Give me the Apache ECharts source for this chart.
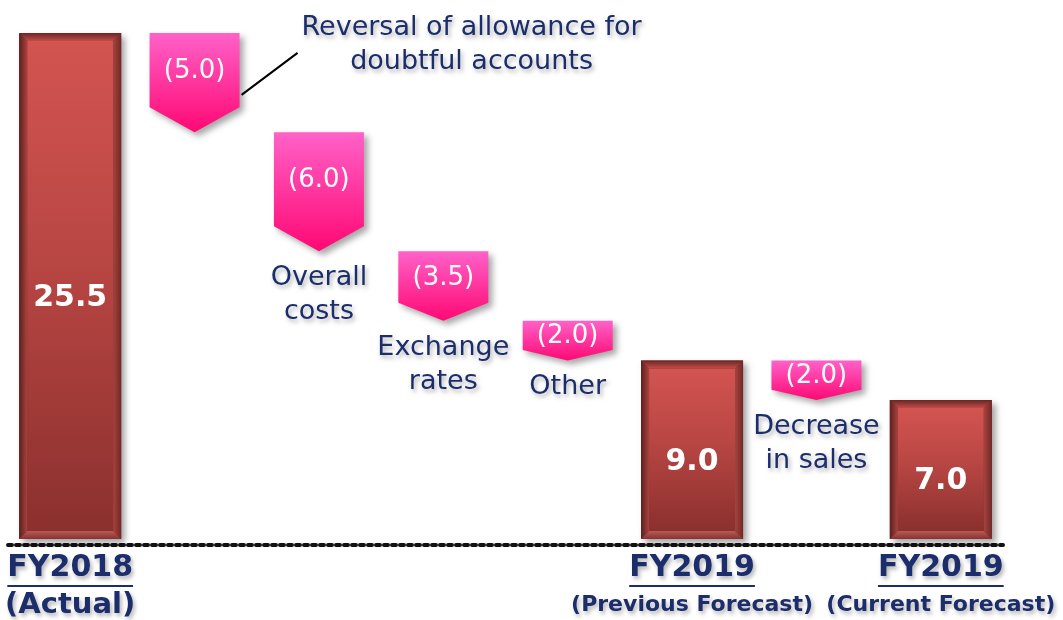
<!DOCTYPE html>
<html>
<head>
<meta charset="utf-8">
<script src="https://cdn.jsdelivr.net/npm/echarts@6/dist/echarts.min.js"></script>
<style>
  html, body { margin: 0; padding: 0; background: #fff; }
  #main { width: 1063px; height: 620px; }
</style>
</head>
<body>
<div id="main"></div>
<script>
// waterfall data
var categories = ['FY2018 (Actual)', 'Reversal of allowance for doubtful accounts', 'Overall costs',
  'Exchange rates', 'Other', 'FY2019 (Previous Forecast)', 'Decrease in sales', 'FY2019 (Current Forecast)'];
var totals  = [25.5, null, null, null, null, 9.0, null, 7.0];
var changes = [null, -5.0, -6.0, -3.5, -2.0, null, -2.0, null];
var notes   = ['', 'Reversal of allowance for\ndoubtful accounts', 'Overall\ncosts', 'Exchange\nrates',
  'Other', '', 'Decrease\nin sales', ''];
var tickTitles = ['FY2018', '', '', '', '', 'FY2019', '', 'FY2019'];
var tickSubs   = ['(Actual)', '', '', '', '', '(Previous Forecast)', '', '(Current Forecast)'];

var NAVY = '#1b2d6b';
var FONT = '"DejaVu Sans", Verdana, sans-serif';

// running level for the floating steps
var totalData = [], stepData = [];
var level = 0;
for (var i = 0; i < categories.length; i++) {
  if (totals[i] != null) {
    level = totals[i];
    totalData.push([i, totals[i]]);
  } else if (changes[i] != null) {
    stepData.push([i, level, level + changes[i], changes[i]]);
    level = level + changes[i];
  }
}

function fmt(v) {
  return v < 0 ? '(' + Math.abs(v).toFixed(1) + ')' : v.toFixed(1);
}

var shadow = { shadowBlur: 6, shadowOffsetX: 4, shadowOffsetY: 4, shadowColor: 'rgba(0,0,0,0.35)' };
var textShadow = { textShadowColor: 'rgba(0,0,0,0.3)', textShadowBlur: 4, textShadowOffsetX: 2, textShadowOffsetY: 3 };

function grad(c0, c1) {
  return new echarts.graphic.LinearGradient(0, 0, 0, 1, [{ offset: 0, color: c0 }, { offset: 1, color: c1 }]);
}

function renderTotal(params, api) {
  var idx = api.value(0), v = api.value(1);
  var top = api.coord([idx, v]);
  var base = api.coord([idx, 0]);
  var w = 102, b = 8;
  var x = top[0] - w / 2, y = top[1], h = base[1] - top[1];
  return {
    type: 'group',
    children: [
      { type: 'rect', shape: { x: x, y: y, width: w, height: h },
        style: Object.assign({ fill: '#6e2624' }, shadow) },
      // inner face
      { type: 'rect', shape: { x: x + b, y: y + b, width: w - 2 * b, height: h - 2 * b },
        style: { fill: new echarts.graphic.LinearGradient(0, 0, 0, 1, [
          { offset: 0, color: '#d35451' }, { offset: 0.45, color: '#b84643' }, { offset: 1, color: '#8b302e' }]) } },
      // bevels
      { type: 'polygon', shape: { points: [[x, y], [x + w, y], [x + w - b, y + b], [x + b, y + b]] },
        style: { fill: grad('#6a2624', '#c04c49') } },
      { type: 'polygon', shape: { points: [[x, y + h], [x + w, y + h], [x + w - b, y + h - b], [x + b, y + h - b]] },
        style: { fill: grad('#b65b57', '#8a302e') } },
      { type: 'polygon', shape: { points: [[x, y], [x + b, y + b], [x + b, y + h - b], [x, y + h]] },
        style: { fill: new echarts.graphic.LinearGradient(0, 0, 1, 0, [
          { offset: 0, color: '#5e1f1e' }, { offset: 1, color: '#a8433f' }]) } },
      { type: 'polygon', shape: { points: [[x + w, y], [x + w - b, y + b], [x + w - b, y + h - b], [x + w, y + h]] },
        style: { fill: new echarts.graphic.LinearGradient(0, 0, 1, 0, [
          { offset: 0, color: '#a8433f' }, { offset: 1, color: '#702826' }]) } },
      { type: 'text',
        style: { text: fmt(v), x: top[0], y: y + h / 2 + 12, align: 'center', verticalAlign: 'middle',
          fill: '#fff', fontSize: 30, fontWeight: 'bold', fontFamily: FONT } }
    ]
  };
}

function renderStep(params, api) {
  var idx = api.value(0);
  var top = api.coord([idx, api.value(1)]);
  var tip = api.coord([idx, api.value(2)]);
  var w = 90;
  var x = top[0] - w / 2, cx = top[0];
  var depth = Math.min(25, (tip[1] - top[1]) * 0.26);
  var children = [
    { type: 'polygon',
      shape: { points: [[x, top[1]], [x + w, top[1]], [x + w, tip[1] - depth], [cx, tip[1]], [x, tip[1] - depth]] },
      style: Object.assign({ fill: grad('#ff62c9', '#ff0873') }, shadow) },
    { type: 'text',
      style: { text: fmt(api.value(3)), x: cx, y: (top[1] + tip[1] - depth) / 2 + 1, align: 'center',
        verticalAlign: 'middle', fill: '#fff', fontSize: 26, fontFamily: FONT } }
  ];
  var note = notes[idx];
  if (note) {
    if (params.dataIndex === 0) {
      // callout to the upper right with a leader line
      children.push({ type: 'line',
        shape: { x1: x + w + 2, y1: top[1] + 62, x2: x + w + 58, y2: top[1] + 20 },
        style: { stroke: '#000', lineWidth: 2 } });
      children.push({ type: 'text',
        style: Object.assign({ text: note, x: x + w + 232, y: top[1] - 22, align: 'center', verticalAlign: 'top',
          fill: NAVY, fontSize: 27, lineHeight: 34, fontFamily: FONT }, textShadow) });
    } else {
      children.push({ type: 'text',
        style: Object.assign({ text: note, x: cx, y: tip[1] + 10, align: 'center', verticalAlign: 'top',
          fill: NAVY, fontSize: 27, lineHeight: 34, fontFamily: FONT }, textShadow) });
    }
  }
  return { type: 'group', children: children };
}

var chart = echarts.init(document.getElementById('main'));
chart.setOption({
  animation: false,
  grid: { left: 8, right: 60, top: 23, bottom: 74 },
  xAxis: {
    type: 'category',
    data: categories,
    axisTick: { show: false },
    axisLine: { onZero: false, lineStyle: { color: '#111', width: 4, type: [4, 4] } },
    axisLabel: {
      interval: 0,
      margin: 5,
      formatter: function (value, idx) {
        if (!tickTitles[idx]) return '';
        var sub = tickSubs[idx].length > 10 ? 'small' : 'big';
        return '{t|' + tickTitles[idx] + '}\n{' + sub + '|' + tickSubs[idx] + '}';
      },
      rich: {
        t: Object.assign({ fontSize: 30, fontWeight: 'bold', color: NAVY, fontFamily: FONT, lineHeight: 37 }, textShadow),
        big: Object.assign({ fontSize: 29, fontWeight: 'bold', color: NAVY, fontFamily: FONT, lineHeight: 37 }, textShadow),
        small: Object.assign({ fontSize: 22, fontWeight: 'bold', color: NAVY, fontFamily: FONT, lineHeight: 37 }, textShadow)
      }
    }
  },
  yAxis: { type: 'value', min: -0.3, max: 26, show: false, splitLine: { show: false } },
  series: [
    { type: 'custom', data: totalData, renderItem: renderTotal, encode: { x: 0, y: 1 }, z: 2 },
    { type: 'custom', data: stepData, renderItem: renderStep, encode: { x: 0, y: [1, 2] }, z: 3 }
  ]
});

// underline the fiscal-year tick titles
var ctx = document.createElement('canvas').getContext('2d');
ctx.font = 'bold 30px ' + FONT;
var lines = [];
tickTitles.forEach(function (t, idx) {
  if (!t) return;
  var px = chart.convertToPixel({ xAxisIndex: 0 }, idx);
  var tw = ctx.measureText(t).width;
  lines.push({ type: 'line', shape: { x1: px - tw / 2, y1: 586, x2: px + tw / 2, y2: 586 },
    style: { stroke: NAVY, lineWidth: 2 } });
});
chart.setOption({ graphic: lines });
</script>
</body>
</html>
